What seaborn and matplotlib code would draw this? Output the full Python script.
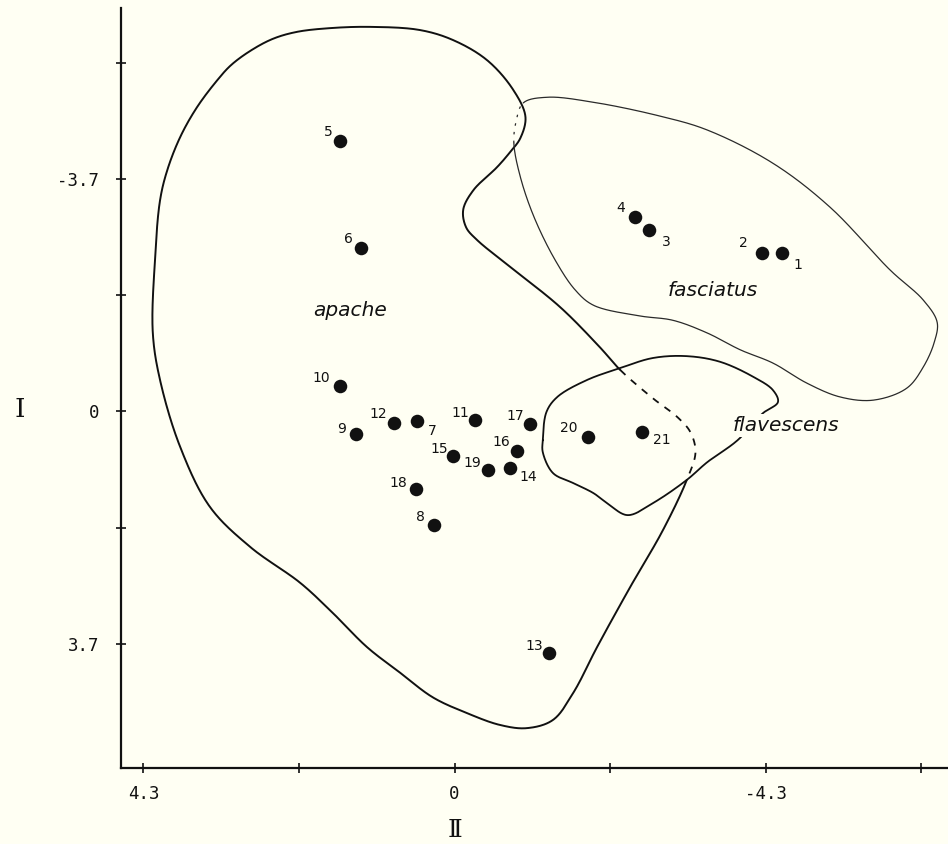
import numpy as np
import pandas as pd
import matplotlib
matplotlib.use("Agg")
import matplotlib.pyplot as plt
import seaborn as sns

# Specimen scores on component II (horizontal) and component I (vertical)
sample_ids = [str(i) for i in range(1, 22)]
comp_ii = [-4.53, -4.25, -2.69, -2.50, 1.58, 1.29, 0.52, 0.28, 1.36, 1.58, -0.28,
           0.83, -1.31, -0.77, 0.02, -0.87, -1.04, 0.53, -0.46, -1.85, -2.59]
comp_i = [-2.52, -2.52, -2.89, -3.09, -4.30, -2.60, 0.15, 1.81, 0.36, -0.40, 0.14,
          0.18, 3.85, 0.90, 0.71, 0.63, 0.20, 1.24, 0.93, 0.41, 0.33]

# Outline vertices of the three groups (component II, component I)
apache_ii = [4.17, 4.14, 4.07, 3.97, 3.79, 3.56, 3.28, 3.09, 2.82, 2.51, 2.18, 1.72,
             1.17, 0.48, 0.02, -0.45, -0.81, -0.98, -0.91, -0.77, -0.59, -0.26, -0.12,
             -0.16, -0.31, -0.77, -1.46, -2.01, -2.29, -2.74, -3.08, -3.26, -3.33,
             -3.21, -2.88, -2.43, -1.97, -1.64, -1.36, -1.00, -0.63, -0.17, 0.30,
             0.75, 1.21, 1.68, 2.13, 2.82, 3.38, 3.79, 4.07]
apache_i = [-1.25, -2.41, -3.36, -3.84, -4.37, -4.84, -5.27, -5.51, -5.74, -5.93,
            -6.04, -6.10, -6.12, -6.07, -5.91, -5.59, -5.12, -4.69, -4.35, -4.13,
            -3.89, -3.52, -3.21, -2.93, -2.73, -2.30, -1.66, -1.02, -0.66, -0.21,
            0.09, 0.33, 0.65, 1.09, 1.89, 2.79, 3.75, 4.48, 4.91, 5.04, 4.99, 4.80,
            4.55, 4.16, 3.75, 3.21, 2.73, 2.16, 1.52, 0.57, -0.50]

fasciatus_ii = [-0.95, -1.28, -1.92, -2.84, -3.49, -4.40, -5.19, -6.02, -6.48, -6.67,
                -6.63, -6.48, -6.25, -5.79, -5.33, -4.87, -4.40, -3.95, -3.49, -3.02,
                -2.56, -1.92, -1.67, -1.39, -1.10, -0.91, -0.82, -0.85]
fasciatus_i = [-4.91, -5.00, -4.92, -4.70, -4.48, -3.95, -3.25, -2.25, -1.77, -1.42,
               -1.10, -0.71, -0.37, -0.18, -0.23, -0.45, -0.77, -0.98, -1.25, -1.45,
               -1.52, -1.69, -1.93, -2.41, -3.09, -3.73, -4.27, -4.61]

flavescens_ii = [-1.22, -1.27, -1.42, -1.83, -2.29, -2.74, -3.21, -3.67, -4.13, -4.40,
                 -4.47, -4.26, -3.91, -3.49, -3.21, -2.74, -2.39, -2.11, -1.92, -1.64,
                 -1.36, -1.22]
flavescens_i = [0.46, 0.01, -0.23, -0.50, -0.69, -0.85, -0.88, -0.79, -0.55, -0.34,
                -0.15, 0.03, 0.46, 0.81, 1.09, 1.46, 1.65, 1.46, 1.30, 1.14, 0.98, 0.65]

group_names = ["apache", "fasciatus", "flavescens"]
group_label_ii = [1.44, -3.57, -4.58]
group_label_i = [-1.61, -1.92, 0.23]

x_ticks = [4.3, 2.15, 0, -2.15, -4.3, -6.45]
x_tick_labels = ["4.3", "", "0", "", "-4.3", ""]
y_ticks = [-5.55, -3.7, -1.85, 0, 1.85, 3.7]
y_tick_labels = ["", "-3.7", "", "0", "", "3.7"]

BG = "#fffff3"
INK = "#111111"

# where each specimen number sits relative to its dot (pixels, right / up)
label_offsets = {
    "1": (16, -12), "2": (-19, 10), "3": (17, -12), "4": (-15, 9), "5": (-12, 9),
    "6": (-13, 9), "7": (15, -10), "8": (-14, 8), "9": (-15, 5), "10": (-19, 8),
    "11": (-14, 7), "12": (-16, 9), "13": (-15, 7), "14": (18, -9), "15": (-14, 7),
    "16": (-16, 9), "17": (-15, 8), "18": (-18, 6), "19": (-15, 7), "20": (-20, 9),
    "21": (20, -8),
}


def spline_segments(ax, xs, ys, n=30, alpha=0.5):
    """Closed centripetal Catmull-Rom curve, built in display space.

    Returns the vertices and one sampled piece (in data units) per
    vertex-to-vertex span."""
    data = np.column_stack([xs, ys]).astype(float)
    p = ax.transData.transform(data)
    inv = ax.transData.inverted()
    m = len(p)
    pieces = []
    for i in range(m):
        p0, p1, p2, p3 = p[i - 1], p[i], p[(i + 1) % m], p[(i + 2) % m]
        t0 = 0.0
        t1 = t0 + np.linalg.norm(p1 - p0) ** alpha
        t2 = t1 + np.linalg.norm(p2 - p1) ** alpha
        t3 = t2 + np.linalg.norm(p3 - p2) ** alpha
        t = np.linspace(t1, t2, n, endpoint=False)[:, None]
        a1 = (t1 - t) / (t1 - t0) * p0 + (t - t0) / (t1 - t0) * p1
        a2 = (t2 - t) / (t2 - t1) * p1 + (t - t1) / (t2 - t1) * p2
        a3 = (t3 - t) / (t3 - t2) * p2 + (t - t2) / (t3 - t2) * p3
        b1 = (t2 - t) / (t2 - t0) * a1 + (t - t0) / (t2 - t0) * a2
        b2 = (t3 - t) / (t3 - t1) * a2 + (t - t1) / (t3 - t1) * a3
        c = (t2 - t) / (t2 - t1) * b1 + (t - t1) / (t2 - t1) * b2
        pieces.append(inv.transform(c))
    return data, pieces


def run(p, pieces, start, stop):
    """Sampled path from vertex `start` to vertex `stop`, wrapping round."""
    m = len(p)
    idx = [start]
    i = (start + 1) % m
    while i != stop:
        idx.append(i)
        i = (i + 1) % m
    pts = np.vstack([pieces[k] for k in idx] + [p[stop][None, :]])
    return pts[:, 0], pts[:, 1]


sns.set_theme(style="white")
plt.rcParams["font.family"] = ["DejaVu Sans"]

fig = plt.figure(figsize=(9.48, 8.44), dpi=100, facecolor=BG)
ax = fig.add_axes([0.1276, 0.090, 0.8724, 0.9005])
ax.set_facecolor(BG)

# axes: both components run from positive to negative
ax.set_xlim(4.61, -6.82)
ax.set_ylim(5.675, -6.42)

# group outlines; apache is dashed where it passes through flavescens,
# fasciatus is dotted where it runs under the apache lobe
p, pieces = spline_segments(ax, apache_ii, apache_i)
x, y = run(p, pieces, 33, 28)
ax.plot(x, y, color=INK, lw=1.4, solid_capstyle="round", zorder=2)
x, y = run(p, pieces, 28, 33)
ax.plot(x, y, color=INK, lw=1.3, linestyle=(0, (4, 4)), zorder=2)

p, pieces = spline_segments(ax, fasciatus_ii, fasciatus_i)
x, y = run(p, pieces, 0, 26)
ax.plot(x, y, color="#2a2a2a", lw=0.9, zorder=2)
x, y = run(p, pieces, 26, 0)
ax.plot(x, y, color="#2a2a2a", lw=0.9, linestyle=(0, (2, 5)), zorder=2)

p, pieces = spline_segments(ax, flavescens_ii, flavescens_i)
x, y = run(p, pieces, 0, 0)
ax.plot(x, y, color=INK, lw=1.3, zorder=2)

# specimens
df = pd.DataFrame({"id": sample_ids, "II": comp_ii, "I": comp_i})
sns.scatterplot(data=df, x="II", y="I", ax=ax, color=INK, s=95, linewidth=0,
                zorder=4, legend=False)
for sid, xv, yv in zip(df["id"], df["II"], df["I"]):
    dx, dy = label_offsets[sid]
    ax.annotate(sid, (xv, yv), xytext=(dx, dy), textcoords="offset pixels",
                ha="center", va="center", fontsize=10, color=INK, zorder=5)

for name, gx, gy in zip(group_names, group_label_ii, group_label_i):
    ax.text(gx, gy, name, ha="center", va="center", fontsize=14.5, style="italic",
            color=INK, zorder=3,
            bbox=dict(facecolor=BG, edgecolor="none", pad=1.5))

for side in ("top", "right"):
    ax.spines[side].set_visible(False)
for side in ("left", "bottom"):
    ax.spines[side].set_linewidth(1.6)
    ax.spines[side].set_color(INK)

ax.set_xticks(x_ticks)
ax.set_xticklabels(x_tick_labels)
ax.set_yticks(y_ticks)
ax.set_yticklabels(y_tick_labels)
ax.tick_params(axis="both", which="major", bottom=True, left=True,
               direction="inout", length=7, width=1.2, color=INK,
               labelsize=12.5, labelcolor=INK)
ax.tick_params(axis="x", pad=9)
ax.tick_params(axis="y", pad=12)
for lab in ax.get_xticklabels() + ax.get_yticklabels():
    lab.set_fontfamily(["DejaVu Sans Mono", "DejaVu Sans"])

ax.set_xlabel("Ⅱ", fontsize=18, color=INK, va="center",
              fontfamily=["DejaVu Serif", "DejaVu Sans"])
ax.set_ylabel("Ⅰ", fontsize=19, color=INK, rotation=0, va="center", ha="center",
              fontfamily=["DejaVu Serif", "DejaVu Sans"])
ax.xaxis.set_label_coords(0.404, -0.082)
ax.yaxis.set_label_coords(-0.122, 0.472)

fig.savefig("out.png", dpi=100, facecolor=BG)
